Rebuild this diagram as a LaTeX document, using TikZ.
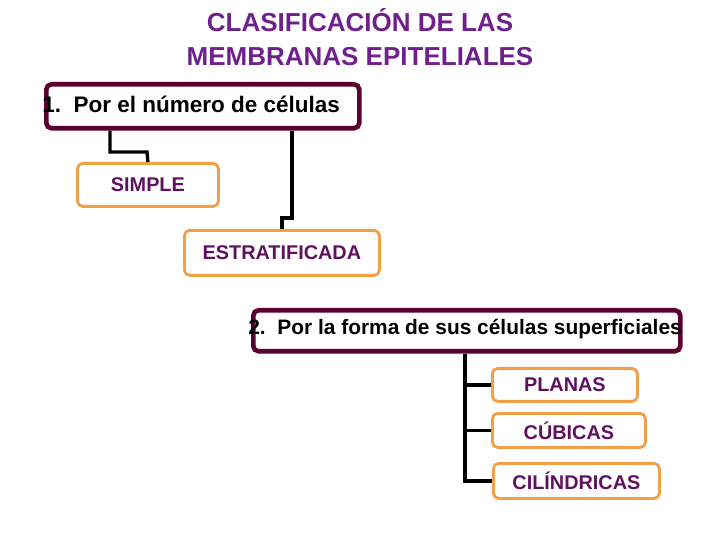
\documentclass[tikz,border=0pt]{standalone}
\usepackage{fontspec}
\setmainfont{Liberation Sans}
\usetikzlibrary{positioning,calc}
\definecolor{titlepurple}{RGB}{112,32,140}
\definecolor{labelpurple}{RGB}{96,16,96}
\definecolor{maroon}{RGB}{92,0,48}
\definecolor{boxorange}{RGB}{240,160,70}

\begin{document}
\begin{tikzpicture}[x = 0.02cm, y = -0.02cm, font = \bfseries\fontsize{11.3}{13}\selectfont]
    \tikzset{
      criterion/.style = {draw = maroon, line width = 2.6pt, rounded corners = 3pt, inner sep = 0pt, anchor = north west},
      kind/.style = {draw = boxorange, line width = 1.6pt, rounded corners = 3pt, text = labelpurple, anchor = north west},
      link/.style = {line width = 1.9pt},
    }
    \useasboundingbox (0, 0) rectangle (720, 540);
    \node [text = titlepurple, align = center, font = \bfseries\fontsize{14.8}{19}\selectfont] (title) at (360, 37) {CLASIFICACIÓN DE LAS\\MEMBRANAS EPITELIALES};

    \node [criterion, minimum width = 313*0.02cm, minimum height = 44*0.02cm] (crit1) at (44, 82) {};
    \node [anchor = west, inner sep = 0pt] (crit1text) at (42, 104) {\fontsize{12.8}{15}\selectfont 1.\ \ Por el número de células};
    \node [kind, minimum width = 141*0.02cm, minimum height = 43*0.02cm] (simple) at (76, 162) {SIMPLE};
    \node [kind, minimum width = 195*0.02cm, minimum height = 45*0.02cm] (estrat) at (183, 229) {ESTRATIFICADA};

    \draw [link] ($(crit1.south west) + (66, 0)$) |- (147, 152) coordinate (bend1) -- (simple.north);
    \draw [link] ($(crit1.south west) + (248, 0)$) |- (282, 218) coordinate (bend2) -- (estrat.north west -| bend2);

    \node [criterion, minimum width = 427*0.02cm, minimum height = 41*0.02cm] (crit2) at (251, 308) {};
    \node [anchor = west, inner sep = 0pt] (crit2text) at (248, 329) {\fontsize{11.9}{14}\selectfont 2.\ \ Por la forma de sus células superficiales};
    \node [kind, minimum width = 145*0.02cm, minimum height = 33*0.02cm] (planas) at (491, 367) {PLANAS};
    \node [kind, minimum width = 153*0.02cm, minimum height = 34*0.02cm] (cubicas) at (491, 412) {CÚBICAS};
    \node [kind, minimum width = 166*0.02cm, minimum height = 35*0.02cm] (cilind) at (492, 462) {CILÍNDRICAS};

    \coordinate (trunk) at ($(crit2.south west) + (214, 0)$);
    \draw [link] (trunk) |- (planas.west);
    \draw [link] (trunk) |- (cubicas.west);
    \draw [link] (trunk) |- (cilind.west);
  \end{tikzpicture}
\end{document}
